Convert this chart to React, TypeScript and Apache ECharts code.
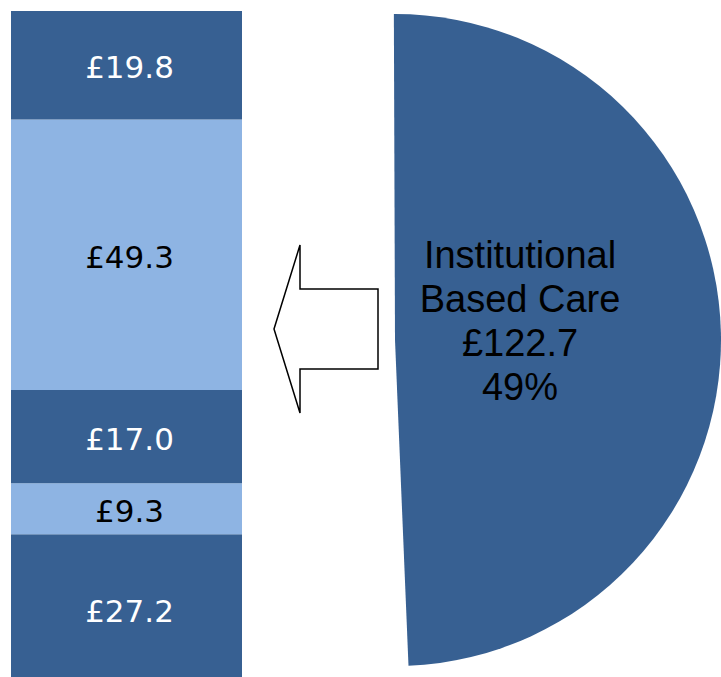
import React, { useEffect, useRef } from "react";
import * as echarts from "echarts";

// Stacked bar segments, top to bottom (£m)
const barValues = [19.8, 49.3, 17.0, 9.3, 27.2];
const barColors = ["#376092", "#8EB4E3", "#376092", "#8EB4E3", "#376092"];
const barLabelColors = ["#ffffff", "#000000", "#ffffff", "#000000", "#ffffff"];
const barCategory = ["Institutional Based Care"];

// Pie slices
const pieNames = ["Institutional\nBased Care", "Other"];
const pieValues = [122.7, 125.7];

const DARK = "#376092";

export default function App() {
  const ref = useRef<HTMLDivElement>(null);
  useEffect(() => {
    document.body.style.margin = "0";
    document.body.style.overflow = "hidden";
    document.documentElement.style.overflow = "hidden";
    const chart = echarts.init(ref.current!, null, { renderer: "svg" });
    const total = barValues.reduce((a, b) => a + b, 0);
    const order = barValues.map((_, i) => i).reverse(); // bottom first
    const barSeries = order.map((i) => ({
      type: "bar",
      name: "seg" + i,
      stack: "total",
      barWidth: "100%",
      data: [barValues[i]],
      itemStyle: { color: barColors[i] },
      label: {
        show: true,
        position: "inside",
        offset: [3, 2],
        formatter: (p: any) => "£" + Number(p.value).toFixed(1),
        color: barLabelColors[i],
        fontFamily: "DejaVu Sans",
        fontSize: 31,
      },
    }));
    chart.setOption({
      animation: false,
      backgroundColor: "#ffffff",
      grid: { left: 11, top: 11, width: 231, height: 672.5 },
      xAxis: { type: "category", data: barCategory, show: false },
      yAxis: { type: "value", min: 0, max: total, show: false },
      graphic: [
        {
          type: "polygon",
          shape: {
            points: [
              [274, 329],
              [300, 245],
              [300, 289],
              [378, 289],
              [378, 369],
              [300, 369],
              [300, 413],
            ],
          },
          style: { fill: "#ffffff", stroke: "#000000", lineWidth: 1.5 },
        },
      ],
      series: [
        ...barSeries,
        {
          type: "pie",
          center: [395, 340],
          radius: 326,
          startAngle: 90.2,
          clockwise: true,
          silent: true,
          data: pieValues.map((v, i) => ({
            value: v,
            name: pieNames[i],
            itemStyle: { color: i === 0 ? DARK : "rgba(0,0,0,0)" },
            label: { show: i === 0 },
          })),
          label: {
            position: "inside",
            formatter: (p: any) =>
              p.name + "\n£" + Number(p.value).toFixed(1) + "\n" + Math.round(p.percent) + "%",
            color: "#000000",
            fontFamily: "Liberation Sans",
            fontSize: 38,
            lineHeight: 44,
            align: "center",
          },
          labelLine: { show: false },
          labelLayout: { x: 520, y: 321, align: "center", verticalAlign: "middle" },
        },
      ],
    });
    return () => chart.dispose();
  }, []);
  return (
    <div
      ref={ref}
      style={{ position: "absolute", left: 0, top: 0, width: 721, height: 700 }}
    />
  );
}
